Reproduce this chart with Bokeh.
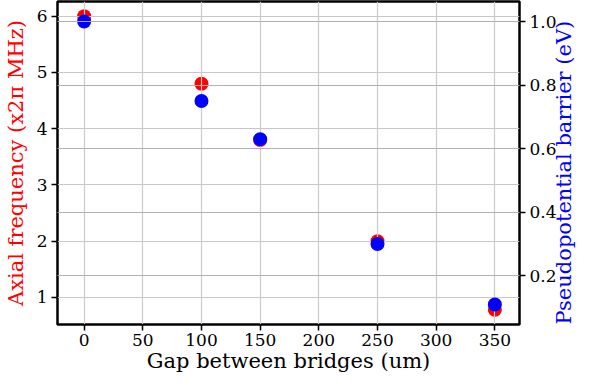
import math
from bokeh.plotting import figure
from bokeh.models import LinearAxis, Range1d, FixedTicker, Grid, ColumnDataSource, PrintfTickFormatter
from bokeh.embed import file_html
from bokeh.resources import INLINE

gap_um = [0, 100, 150, 250, 350]
axial_freq = [6.0, 4.8, 3.8, 2.0, 0.78]
barrier_ev = [1.0, 0.75, 0.63, 0.30, 0.11]
x_ticks = [0, 50, 100, 150, 200, 250, 300, 350]
left_ticks = [1, 2, 3, 4, 5, 6]
right_ticks = [0.2, 0.4, 0.6, 0.8, 1.0]
x_label = "Gap between bridges (um)"
left_label = "Axial frequency (x2π MHz)"
right_label = "Pseudopotential barrier (eV)"

FONT = "DejaVu Serif"

p = figure(width=590, height=375, output_backend="svg", toolbar_location=None,
           x_range=Range1d(-22.7, 371), y_range=Range1d(0.52, 6.262),
           min_border_left=55, min_border_right=67, min_border_top=1, min_border_bottom=49)
p.extra_y_ranges = {"right": Range1d(0.047, 1.063)}

p.outline_line_color = "black"
p.outline_line_width = 2.5
p.outline_line_alpha = 1.0
p.background_fill_color = "white"
p.border_fill_color = "white"

p.xgrid.visible = False
p.ygrid.visible = False

src = ColumnDataSource(dict(x=gap_um, f=axial_freq, b=barrier_ev))

red = p.scatter("x", "f", source=src, size=14, color="red", line_color=None, level="image")
blue = p.scatter("x", "b", source=src, size=14, color="blue", line_color=None,
                 y_range_name="right", level="glyph")

xg = Grid(dimension=0, ticker=FixedTicker(ticks=x_ticks), grid_line_color="#cccccc",
          grid_line_width=1.2, level="underlay")
yg = Grid(dimension=1, ticker=FixedTicker(ticks=left_ticks), grid_line_color="#c8c8c8",
          grid_line_width=1.2, level="underlay")
yg2 = Grid(dimension=1, ticker=FixedTicker(ticks=right_ticks), grid_line_color="#b0b0b0",
           grid_line_width=1.0, y_range_name="right", level="guide")
p.add_layout(xg)
p.add_layout(yg)
p.add_layout(yg2)

right_axis = LinearAxis(y_range_name="right")
p.add_layout(right_axis, "right")

for ax in [p.xaxis[0], p.yaxis[0], right_axis]:
    ax.axis_line_color = None
    ax.major_tick_line_color = "black"
    ax.major_tick_line_width = 1.5
    ax.major_tick_out = 6
    ax.major_tick_in = 0
    ax.minor_tick_line_color = None
    ax.major_label_text_font = FONT
    ax.major_label_text_font_size = "17px"
    ax.major_label_text_color = "black"
    ax.major_label_standoff = 4
    ax.axis_label_text_font = FONT
    ax.axis_label_text_font_size = "21px"
    ax.axis_label_text_font_style = "normal"

p.xaxis[0].ticker = FixedTicker(ticks=x_ticks)
p.yaxis[0].ticker = FixedTicker(ticks=left_ticks)
right_axis.ticker = FixedTicker(ticks=right_ticks)
right_axis.formatter = PrintfTickFormatter(format="%.1f")

p.xaxis[0].axis_label = x_label
p.xaxis[0].axis_label_text_color = "black"
p.xaxis[0].major_label_standoff = 3
p.xaxis[0].axis_label_standoff = 0
p.yaxis[0].axis_label = left_label
p.yaxis[0].axis_label_text_color = "red"
p.yaxis[0].axis_label_standoff = 6
right_axis.axis_label = right_label
right_axis.axis_label_text_color = "blue"
right_axis.axis_label_standoff = 4
right_axis.axis_label_orientation = math.pi / 2
try:
    right_axis.axis_label_align = "start"
except Exception:
    pass

open("out.html", "w").write(file_html(p, INLINE))
